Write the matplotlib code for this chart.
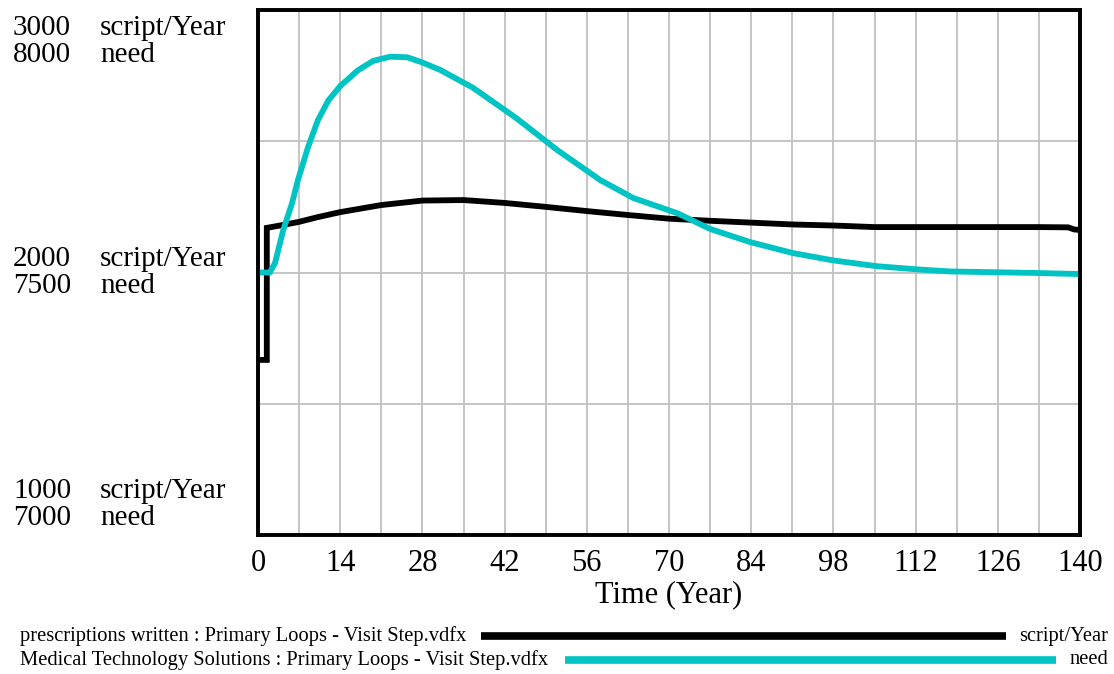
import matplotlib.pyplot as plt
from matplotlib.lines import Line2D
import numpy as np

plt.rcParams['font.family'] = ['Liberation Serif', 'DejaVu Serif']

# ==== data ====
t_script = [0, 1.5, 1.5, 4, 7, 10, 14, 21, 28, 35, 42, 49, 56, 63, 70, 77, 84, 91, 98, 105, 112, 119, 126, 133,
            138, 139, 140]
script = [1667, 1667, 2170, 2180, 2193, 2210, 2230, 2257, 2274, 2276, 2265, 2250, 2234, 2219, 2205, 2197, 2190,
          2183, 2179, 2173, 2173, 2173, 2173, 2173, 2172, 2164, 2162]

t_need = [0, 2, 2.9, 4.3, 5.8, 6.8, 8.5, 10.2, 12, 14, 17, 19.6, 22.5, 25.4, 28, 31, 36.6, 44, 51, 58.3, 63.9,
          71.4, 77, 83.8, 91.1, 98, 105.4, 112.2, 117.9, 133, 140]
need = [7500, 7500, 7518, 7581, 7632, 7676, 7738, 7790, 7828, 7855, 7885, 7903, 7911, 7910, 7900, 7886, 7852,
        7794, 7733, 7676, 7642, 7613, 7583, 7558, 7537, 7523, 7512, 7506, 7502, 7499, 7497]

x_ticks = [0, 14, 28, 42, 56, 70, 84, 98, 112, 126, 140]
left_labels = [("3000", "script/Year"), ("8000", "need"),
               ("2000", "script/Year"), ("7500", "need"),
               ("1000", "script/Year"), ("7000", "need")]
legend_names = ["prescriptions written : Primary Loops - Visit Step.vdfx",
                "Medical Technology Solutions : Primary Loops - Visit Step.vdfx"]
legend_units = ["script/Year", "need"]

black = "black"
cyan = "#00c4c4"
grid_c = "#c0c0c0"

W, H = 1114, 674
fig = plt.figure(figsize=(W / 100, H / 100), dpi=100)

def fx(px):
    return px / W

def fy(py):
    return 1 - py / H

ax = fig.add_axes([fx(258), fy(535), fx(1080) - fx(258), fy(10) - fy(535)])
ax2 = ax.twinx()

ax.set_xlim(0, 140)
ax.set_ylim(1000, 3000)
ax2.set_ylim(7000, 8000)

# grid
for xv in np.arange(7, 140, 7):
    ax.axvline(xv, color=grid_c, lw=1.3, zorder=0)
for yv in [1500, 2000, 2500]:
    ax.axhline(yv, color=grid_c, lw=1.3, zorder=0)

ax.plot(t_script, script, color=black, lw=4.2, solid_joinstyle='miter')
ax2.plot(t_need, need, color=cyan, lw=4.2)

ax.set_xticks(x_ticks)
ax.set_xticklabels([str(v) for v in x_ticks], fontsize=22)
ax.tick_params(axis='x', length=0, pad=10)
ax.set_yticks([])
ax2.set_yticks([])
for a in (ax, ax2):
    for s in a.spines.values():
        s.set_linewidth(2.6)
        s.set_color('black')
ax.set_xlabel("Time (Year)", fontsize=22, labelpad=2)

# left axis labels
ys = [28, 55, 259, 286, 491, 518]
for (num, unit), yy in zip(left_labels, ys):
    fig.text(fx(13), fy(yy), num, fontsize=21, va='center', ha='left')
    fig.text(fx(100), fy(yy), unit, fontsize=21, va='center', ha='left')

# legend
leg_y = [636, 660]
line_x = [(481, 1006), (565, 1056)]
cols = [black, cyan]
for name, unit, yy, (x0, x1), c in zip(legend_names, legend_units, leg_y, line_x, cols):
    fig.text(fx(20), fy(yy), name, fontsize=14.8, va='center', ha='left')
    fig.add_artist(Line2D([fx(x0), fx(x1)], [fy(yy), fy(yy)], color=c, lw=5.5, solid_capstyle='butt'))
    fig.text(fx(1108), fy(yy), unit, fontsize=14.8, va='center', ha='right')

fig.savefig("out.png", dpi=100)
